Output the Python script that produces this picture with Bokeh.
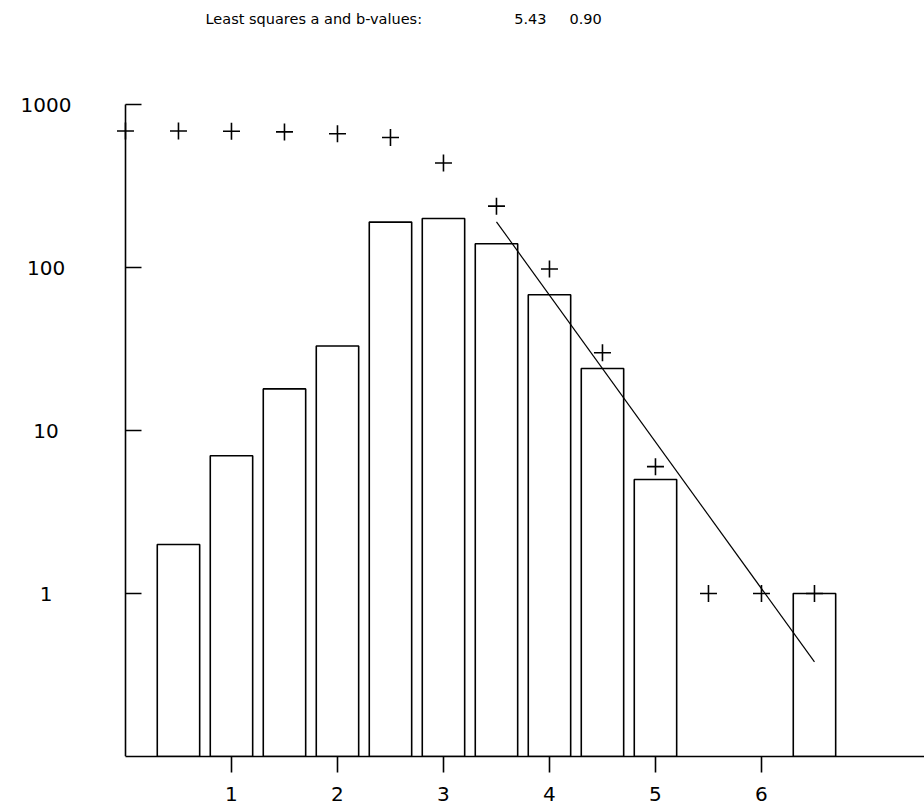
from bokeh.plotting import figure
from bokeh.models import Range1d, FixedTicker, BasicTickFormatter, Title
from bokeh.embed import file_html
from bokeh.resources import INLINE

# ---- data ----
bar_mag = [0.5, 1.0, 1.5, 2.0, 2.5, 3.0, 3.5, 4.0, 4.5, 5.0, 6.5]
bar_count = [2, 7, 18, 33, 190, 200, 140, 68, 24, 5, 1]

cum_mag = [0.0, 0.5, 1.0, 1.5, 2.0, 2.5, 3.0, 3.5, 4.0, 4.5, 5.0, 5.5, 6.0, 6.5]
cum_count = [688, 688, 686, 679, 661, 628, 438, 238, 98, 30, 6, 1, 1, 1]

a_value = 5.43
b_value = 0.90
fit_mag = [3.5, 6.5]
fit_count = [10 ** (a_value - b_value * m) for m in fit_mag]

x_ticks = [1, 2, 3, 4, 5, 6]
y_ticks = [1, 10, 100, 1000]
y_tick_labels = ["1", "10", "100", "1000"]
title_text = "Least squares a and b-values:"

NB = "\u00a0"
full_title = title_text + NB * 20 + f"{a_value:.2f}" + NB * 5 + f"{b_value:.2f}"

# ---- figure ----
X0, X1 = -1.179, 7.538
Y0, Y1 = 0.1, 1152
p = figure(width=924, height=806, y_axis_type="log",
           x_range=Range1d(X0, X1), y_range=Range1d(Y0, Y1),
           output_backend="svg", toolbar_location=None,
           min_border_left=0, min_border_right=0,
           min_border_top=0, min_border_bottom=50,
           title=full_title)
p.outline_line_color = None
p.xgrid.grid_line_color = None
p.ygrid.grid_line_color = None
p.background_fill_color = "white"

p.title.text_font = "DejaVu Sans"
p.title.text_font_size = "14.5px"
p.title.text_font_style = "normal"
p.title.text_color = "black"
p.title.align = "left"
p.title.offset = 205
p.title.standoff = 17

# empty spacer between title and plot area
p.add_layout(Title(text=NB, text_font="DejaVu Sans", text_font_size="16px",
                   standoff=38), "above")

p.vbar(x=bar_mag, top=bar_count, bottom=Y0, width=0.4,
       fill_color="white", line_color="black", line_width=1.6)
p.line(x=fit_mag, y=fit_count, line_color="black", line_width=1.2)
p.scatter(x=cum_mag, y=cum_count, marker="cross", size=17,
          line_color="black", line_width=1.6)

# axes
for ax in (p.xaxis[0], p.yaxis[0]):
    ax.axis_line_color = "black"
    ax.axis_line_width = 1.6
    ax.major_tick_line_color = "black"
    ax.major_tick_line_width = 1.6
    ax.minor_tick_line_color = None
    ax.major_label_text_font = "DejaVu Sans"
    ax.major_label_text_font_size = "20px"
    ax.major_label_text_color = "black"

p.xaxis.ticker = FixedTicker(ticks=x_ticks)
p.xaxis.major_tick_in = 0
p.xaxis.major_tick_out = 16
p.xaxis.major_label_standoff = 14
p.xaxis.bounds = (0, X1)

p.yaxis.ticker = FixedTicker(ticks=y_ticks)
p.yaxis.formatter = BasicTickFormatter()
# pad shorter labels so that they sit centred in one column
p.yaxis.major_label_overrides = {
    t: lab + NB * (4 - len(lab)) for t, lab in zip(y_ticks, y_tick_labels)
}
p.yaxis.major_tick_in = 16
p.yaxis.major_tick_out = 0
p.yaxis.major_label_standoff = 54
p.yaxis.fixed_location = 0
p.yaxis.bounds = (Y0, 1000)

open("out.html", "w").write(file_html(p, INLINE))
